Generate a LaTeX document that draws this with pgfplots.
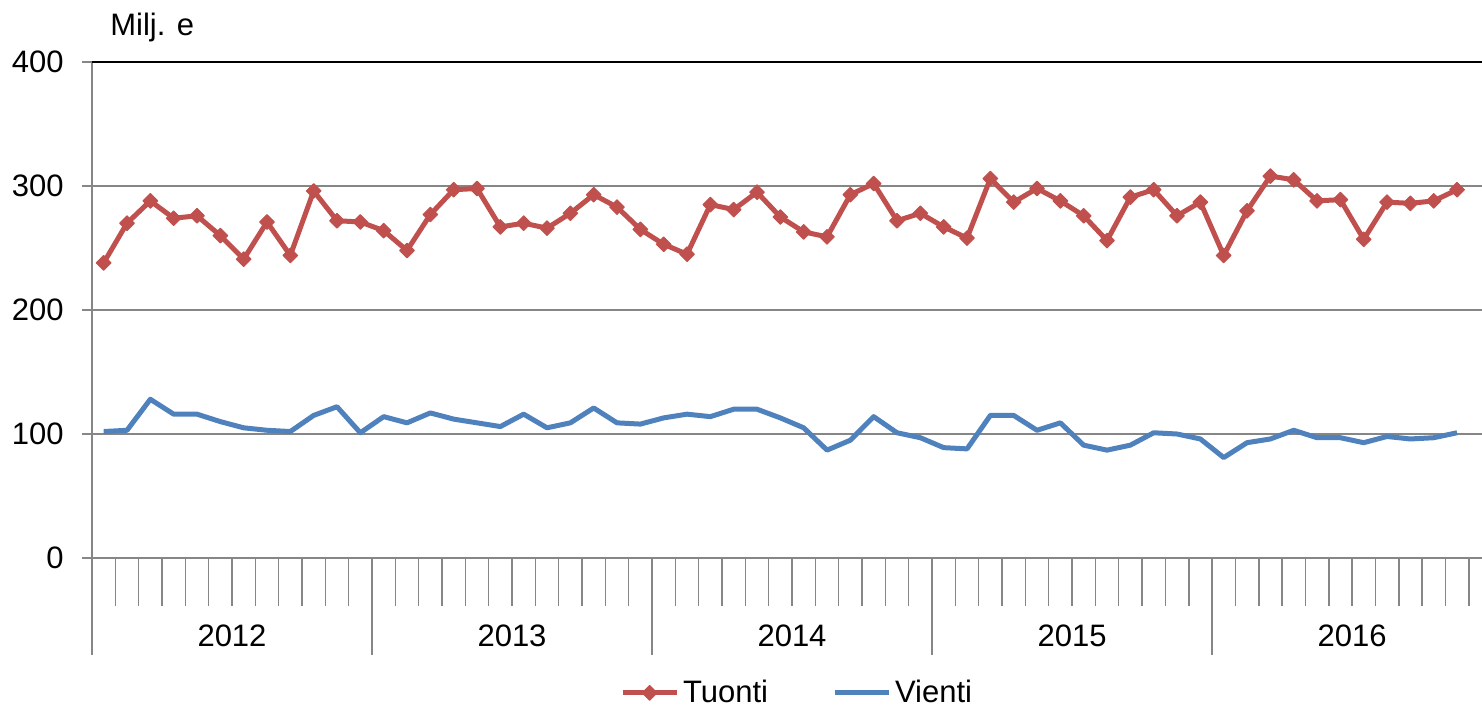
\documentclass[border=0pt]{standalone}
\usepackage{pgfplots}
\pgfplotsset{compat=1.18}
\usepackage{fontspec}
\setmainfont{Liberation Sans}
\definecolor{tuonti}{HTML}{C0504D}
\definecolor{vienti}{HTML}{4F81BD}
\definecolor{gridgray}{HTML}{868686}
\newcommand{\chartfont}{\fontsize{15.5}{18}\selectfont}

\pgfplotstableread{
x y
0.5 238
1.5 270
2.5 288
3.5 274
4.5 276
5.5 260
6.5 241
7.5 271
8.5 244
9.5 296
10.5 272
11.5 271
12.5 264
13.5 248
14.5 277
15.5 297
16.5 298
17.5 267
18.5 270
19.5 266
20.5 278
21.5 293
22.5 283
23.5 265
24.5 253
25.5 245
26.5 285
27.5 281
28.5 295
29.5 275
30.5 263
31.5 259
32.5 293
33.5 302
34.5 272
35.5 278
36.5 267
37.5 258
38.5 306
39.5 287
40.5 298
41.5 288
42.5 276
43.5 256
44.5 291
45.5 297
46.5 276
47.5 287
48.5 244
49.5 280
50.5 308
51.5 305
52.5 288
53.5 289
54.5 257
55.5 287
56.5 286
57.5 288
58.5 297
}\tuontitable

\pgfplotstableread{
x y
0.5 102
1.5 103
2.5 128
3.5 116
4.5 116
5.5 110
6.5 105
7.5 103
8.5 102
9.5 115
10.5 122
11.5 101
12.5 114
13.5 109
14.5 117
15.5 112
16.5 109
17.5 106
18.5 116
19.5 105
20.5 109
21.5 121
22.5 109
23.5 108
24.5 113
25.5 116
26.5 114
27.5 120
28.5 120
29.5 113
30.5 105
31.5 87
32.5 95
33.5 114
34.5 101
35.5 97
36.5 89
37.5 88
38.5 115
39.5 115
40.5 103
41.5 109
42.5 91
43.5 87
44.5 91
45.5 101
46.5 100
47.5 96
48.5 81
49.5 93
50.5 96
51.5 103
52.5 97
53.5 97
54.5 93
55.5 98
56.5 96
57.5 97
58.5 101
}\vientitable

\begin{document}
\begin{tikzpicture}
\begin{axis}[
  scale only axis, width=695pt, height=248pt,
  xmin=0, xmax=59.57, ymin=0, ymax=400,
  axis lines=left,
  axis line style={-, gridgray, line width=1pt},
  xtick=\empty,
  ytick={0,100,200,300,400},
  ymajorgrids,
  grid style={gridgray, line width=1pt},
  tick align=outside, major tick length=5pt,
  tick style={gridgray, line width=1pt},
  /pgf/number format/assume math mode=true,
  yticklabel style={font=\chartfont, anchor=east, inner sep=0pt, xshift=-9pt},
  clip=false,
  legend style={draw=none, fill=none, font=\chartfont, legend columns=2,
    at={(0.508,-0.272)}, anchor=center,
    /tikz/every even column/.append style={column sep=30pt}},
  legend cell align=left,
  legend image code/.code={\draw[mark repeat=2, mark phase=2] plot coordinates {(0pt,0pt) (13.5pt,0pt) (27pt,0pt)};},
]
\addplot[tuonti, line width=2.5pt, line join=round, mark=square*, mark size=2.6pt,
  mark options={solid, rotate=45, line width=0.5pt}] table[x=x, y=y] {\tuontitable};
\addlegendentry{Tuonti}
\addplot[vienti, line width=2.5pt, line join=round, no marks] table[x=x, y=y] {\vientitable};
\addlegendentry{Vienti}

\draw[black, line width=1pt] (rel axis cs:0,1) -- (rel axis cs:1,1);
\pgfplotsinvokeforeach{1,2,3,4,5,6,7,8,9,10,11,13,14,15,16,17,18,19,20,21,22,23,25,26,27,28,29,30,31,32,33,34,35,37,38,39,40,41,42,43,44,45,46,47,49,50,51,52,53,54,55,56,57,58,59}{
  \draw[gridgray, line width=0.8pt] (axis cs:#1,0) -- ++(0,-24pt);
}
\pgfplotsinvokeforeach{0,12,24,36,48}{
  \draw[gridgray, line width=0.8pt] (axis cs:#1,0) -- ++(0,-48.5pt);
}
\node[font=\chartfont, anchor=base] at (axis cs:6,0) [yshift=-44pt] {2012};
\node[font=\chartfont, anchor=base] at (axis cs:18,0) [yshift=-44pt] {2013};
\node[font=\chartfont, anchor=base] at (axis cs:30,0) [yshift=-44pt] {2014};
\node[font=\chartfont, anchor=base] at (axis cs:42,0) [yshift=-44pt] {2015};
\node[font=\chartfont, anchor=base] at (axis cs:54,0) [yshift=-44pt] {2016};
\node[font=\chartfont, anchor=base west, inner sep=0pt] at (rel axis cs:0,1) [xshift=9pt, yshift=13.5pt] {Milj. e};
\end{axis}
\pgfresetboundingbox
\useasboundingbox (-46pt,-75pt) rectangle (695pt,279pt);
\end{tikzpicture}
\end{document}
